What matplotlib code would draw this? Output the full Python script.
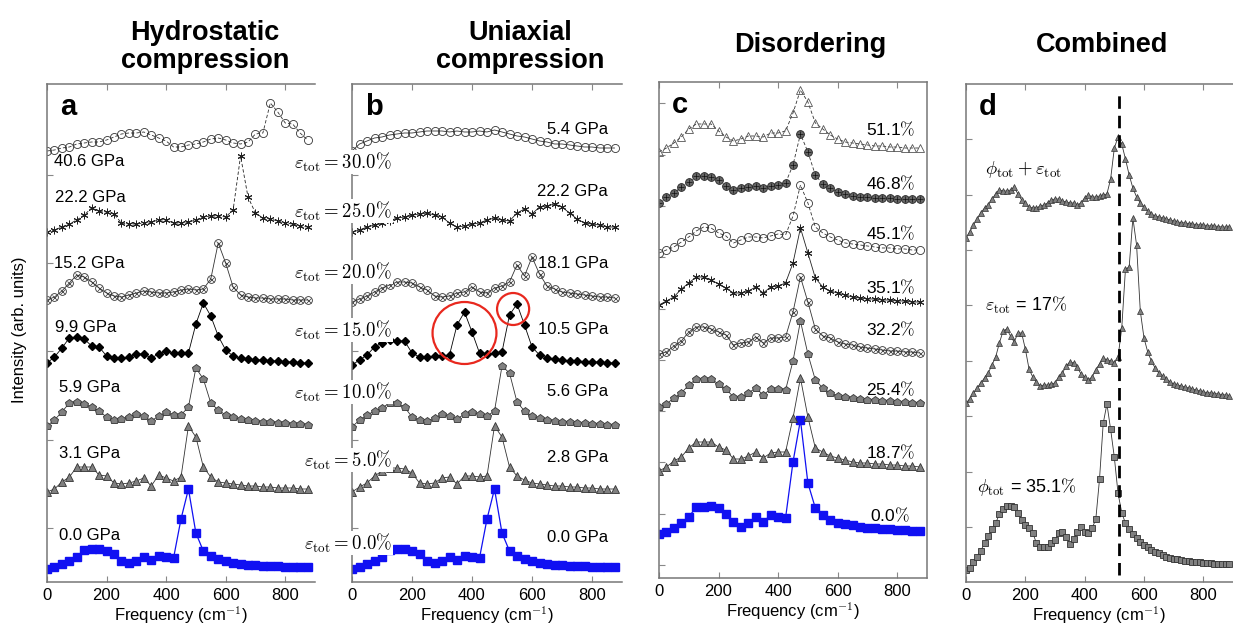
import numpy as np
import matplotlib
matplotlib.use("Agg")
import matplotlib.pyplot as plt
from matplotlib.patches import Ellipse

plt.rcParams['font.family'] = ['Liberation Sans', 'DejaVu Sans']
plt.rcParams['mathtext.fontset'] = 'cm'

# frequency grids (cm^-1)
freq = np.arange(0, 900, 25)
freq_fine = np.arange(0, 900, 12.5)

# --- a: hydrostatic compression (stacked intensities) ---
ref_0gpa = [1.3, 1.5, 1.8, 2.1, 2.5, 3.2, 3.3, 3.3, 3.1, 2.8, 2.1, 1.9, 2.1, 2.5, 2.2, 2.6, 2.5, 2.4,
            6.3, 9.3, 4.9, 3.1, 2.6, 2.3, 2.1, 1.9, 1.8, 1.7, 1.7, 1.6, 1.6, 1.6, 1.5, 1.5, 1.5, 1.5]
hydro_3gpa = [9.0, 9.3, 10.0, 10.5, 11.5, 11.5, 11.5, 10.7, 10.6, 9.9, 9.8, 9.9, 10.1, 10.4, 9.6, 10.7, 10.4, 10.1,
              10.5, 15.6, 14.5, 11.5, 10.5, 10.0, 9.9, 9.8, 9.7, 9.6, 9.6, 9.5, 9.5, 9.4, 9.4, 9.4, 9.3, 9.3]
hydro_6gpa = [15.6, 16.2, 17.0, 17.9, 18.0, 17.8, 17.5, 17.1, 16.5, 16.2, 16.3, 16.5, 16.8, 16.6, 16.1, 16.6, 17.0, 16.7,
              16.7, 17.5, 21.4, 20.3, 17.9, 17.2, 16.7, 16.5, 16.3, 16.2, 16.1, 16.0, 16.0, 15.9, 15.9, 15.8, 15.8, 15.7]
hydro_10gpa = [21.9, 22.5, 23.4, 24.4, 24.5, 24.3, 23.6, 23.5, 22.6, 22.4, 22.4, 22.5, 22.8, 22.8, 22.4, 22.8, 23.1, 22.9,
               22.9, 22.9, 25.8, 27.9, 26.6, 24.6, 23.2, 22.6, 22.4, 22.3, 22.2, 22.2, 22.1, 22.1, 22.0, 22.0, 21.9, 21.9]
hydro_15gpa = [28.2, 28.5, 29.1, 29.9, 30.7, 30.5, 30.0, 29.4, 28.9, 28.6, 28.5, 28.7, 28.9, 29.1, 29.0, 28.9, 28.9, 29.0,
               29.2, 29.3, 29.2, 29.3, 30.3, 33.9, 31.9, 29.5, 28.7, 28.5, 28.4, 28.4, 28.3, 28.3, 28.3, 28.2, 28.2, 28.2]
hydro_22gpa = [35.0, 35.2, 35.5, 35.8, 36.2, 36.7, 37.4, 37.1, 37.0, 36.8, 35.9, 35.8, 35.8, 35.9, 36.0, 36.2, 36.2, 35.9,
               35.9, 36.0, 36.2, 36.5, 36.6, 36.6, 36.5, 37.2, 42.6, 38.5, 36.9, 36.4, 36.3, 36.1, 35.9, 35.8, 35.6, 35.5]
hydro_41gpa = [43.1, 43.2, 43.4, 43.5, 43.8, 43.9, 44.0, 44.0, 44.2, 44.5, 44.8, 44.9, 44.9, 45.0, 44.7, 44.4, 44.1, 43.5,
               43.5, 43.7, 43.8, 44.0, 44.3, 44.4, 44.2, 43.9, 43.8, 44.0, 44.8, 44.9, 47.9, 47.0, 45.9, 45.8, 44.9, 44.2]
hydro_labels = ['0.0 GPa', '3.1 GPa', '5.9 GPa', '9.9 GPa', '15.2 GPa', '22.2 GPa', '40.6 GPa']

# --- b: uniaxial compression ---
uni_3gpa = [9.0, 9.5, 9.9, 10.6, 11.1, 11.4, 11.4, 11.3, 10.9, 9.9, 9.8, 9.9, 10.4, 10.5, 9.8, 10.6, 10.6, 10.5,
            10.6, 15.6, 14.5, 11.5, 10.6, 10.2, 9.9, 9.8, 9.7, 9.6, 9.6, 9.5, 9.5, 9.4, 9.4, 9.3, 9.3, 9.3]
uni_6gpa = [15.5, 16.2, 16.7, 17.1, 17.4, 17.9, 17.9, 17.5, 16.5, 16.2, 16.1, 16.4, 16.8, 16.6, 16.3, 16.8, 17.0, 16.8,
            16.6, 17.1, 21.6, 20.9, 18.0, 17.1, 16.6, 16.4, 16.2, 16.1, 16.0, 16.0, 15.9, 15.9, 15.8, 15.8, 15.7, 15.7]
uni_10gpa = [21.7, 22.2, 22.7, 23.5, 23.9, 24.2, 24.1, 24.1, 22.9, 22.5, 22.5, 22.6, 22.6, 22.7, 25.7, 27.0, 25.0, 22.9,
             22.8, 22.9, 23.0, 26.7, 27.8, 25.7, 23.5, 22.7, 22.4, 22.3, 22.2, 22.1, 22.1, 22.0, 22.0, 22.0, 21.9, 21.9]
uni_18gpa = [28.0, 28.3, 28.6, 29.0, 29.4, 29.7, 30.0, 30.0, 29.9, 29.5, 29.2, 28.6, 28.5, 28.6, 28.9, 29.0, 29.5, 29.0,
             28.9, 29.4, 29.6, 30.0, 31.7, 30.6, 32.5, 30.8, 29.6, 29.3, 29.0, 28.9, 28.8, 28.7, 28.6, 28.5, 28.5, 28.4]
uni_22gpa = [35.0, 35.2, 35.5, 35.7, 35.9, 36.1, 36.4, 36.5, 36.7, 36.8, 36.9, 36.7, 36.5, 35.9, 35.5, 35.6, 35.8, 35.9,
             36.2, 36.4, 36.2, 36.1, 36.9, 37.3, 36.8, 37.5, 37.6, 37.8, 37.5, 36.9, 36.3, 35.9, 35.8, 35.7, 35.5, 35.5]
uni_5gpa = [43.1, 43.8, 44.1, 44.4, 44.5, 44.7, 44.8, 44.9, 44.9, 45.0, 45.1, 45.1, 45.1, 45.0, 45.1, 45.0, 45.0, 45.1,
            45.0, 45.2, 45.0, 44.8, 44.6, 44.5, 44.3, 44.1, 44.0, 43.8, 43.8, 43.7, 43.6, 43.5, 43.5, 43.4, 43.4, 43.4]
uni_labels = ['0.0 GPa', '2.8 GPa', '5.6 GPa', '10.5 GPa', '18.1 GPa', '22.2 GPa', '5.4 GPa']
strain_labels = ['0.0', '5.0', '10.0', '15.0', '20.0', '25.0', '30.0']

# --- c: disordering ---
dis_0 = [4.4, 4.6, 5.0, 5.5, 6.1, 7.1, 7.1, 7.2, 7.0, 6.4, 5.6, 5.1, 5.5, 6.1, 5.6, 6.3, 6.1, 6.0,
         11.6, 15.8, 9.5, 7.0, 6.3, 5.8, 5.5, 5.4, 5.3, 5.1, 5.0, 5.0, 4.9, 4.9, 4.8, 4.8, 4.7, 4.7]
dis_187 = [10.7, 11.1, 11.7, 12.1, 13.0, 13.6, 13.6, 13.6, 13.1, 12.8, 11.9, 11.9, 12.2, 12.6, 12.0, 12.5, 12.6, 12.6,
           16.0, 20.0, 16.1, 13.0, 12.6, 12.2, 12.0, 11.8, 11.6, 11.5, 11.5, 11.4, 11.4, 11.3, 11.3, 11.2, 11.2, 11.1]
dis_254 = [17.1, 17.4, 18.0, 18.5, 19.3, 19.9, 19.9, 19.9, 19.4, 18.9, 18.1, 18.1, 18.5, 19.0, 18.3, 18.9, 18.9, 18.8,
           21.7, 25.7, 22.4, 19.8, 19.0, 18.5, 18.2, 18.1, 18.0, 17.9, 17.8, 17.8, 17.7, 17.7, 17.6, 17.6, 17.5, 17.5]
dis_322 = [22.4, 22.6, 23.2, 23.7, 24.6, 25.1, 25.1, 24.9, 24.6, 24.3, 23.3, 23.5, 23.6, 24.1, 23.5, 24.0, 24.0, 24.1,
           26.6, 30.1, 27.6, 24.9, 24.2, 24.0, 23.6, 23.4, 23.3, 23.1, 23.0, 22.9, 22.8, 22.7, 22.7, 22.6, 22.6, 22.5]
dis_351 = [27.3, 27.7, 28.1, 28.9, 29.5, 30.1, 30.1, 29.8, 29.4, 29.0, 28.5, 28.5, 28.7, 29.1, 28.5, 29.1, 29.2, 29.5,
           31.5, 35.0, 32.5, 30.0, 29.1, 28.7, 28.5, 28.3, 28.1, 28.0, 27.9, 27.9, 27.8, 27.8, 27.7, 27.7, 27.6, 27.6]
dis_451 = [32.5, 32.8, 33.1, 33.6, 34.1, 34.7, 35.1, 35.0, 34.5, 34.2, 33.5, 33.8, 34.1, 34.1, 34.0, 34.2, 34.4, 34.3,
           36.2, 39.3, 37.5, 35.1, 34.5, 34.1, 33.8, 33.5, 33.4, 33.3, 33.2, 33.1, 33.0, 33.0, 32.9, 32.9, 32.8, 32.8]
dis_468 = [37.5, 38.1, 38.5, 39.1, 39.6, 40.2, 40.2, 40.1, 39.8, 39.2, 38.8, 39.0, 39.1, 39.2, 39.0, 39.2, 39.3, 39.5,
           41.3, 44.4, 42.6, 40.3, 39.4, 39.0, 38.6, 38.4, 38.2, 38.1, 38.1, 38.0, 38.0, 38.0, 37.9, 37.9, 37.9, 37.9]
dis_511 = [42.6, 43.0, 43.5, 44.1, 44.9, 45.4, 45.4, 45.4, 44.7, 44.1, 43.7, 43.9, 44.2, 44.2, 44.1, 44.5, 44.5, 44.7,
           46.5, 48.8, 47.6, 45.5, 44.9, 44.3, 43.9, 43.6, 43.5, 43.4, 43.3, 43.2, 43.2, 43.1, 43.1, 43.0, 43.0, 43.0]
dis_labels = ['0.0', '18.7', '25.4', '32.2', '35.1', '45.1', '46.8', '51.1']

# --- d: combined (finer grid) ---
comb_phi = [1.2, 1.43, 2.03, 2.53, 3.13, 3.87, 4.6, 5.27, 5.87, 6.8, 7.27, 7.6, 7.63, 7.47, 6.93, 6.2, 5.7, 5.37,
            4.93, 3.87, 3.53, 3.47, 3.53, 3.93, 4.2, 4.87, 5.03, 4.47, 3.8, 4.27, 5.03, 5.47, 5.03, 4.93, 5.37, 6.27,
            10.27, 15.87, 17.8, 15.27, 12.47, 8.87, 6.93, 5.87, 5.27, 4.8, 4.37, 4.03, 3.7, 3.47, 3.2, 3.0, 2.87, 2.7,
            2.53, 2.43, 2.33, 2.27, 2.2, 2.13, 2.07, 2.03, 2.0, 1.97, 1.93, 1.9, 1.87, 1.83, 1.8, 1.8, 1.77, 1.77]
comb_eps = [17.9, 18.3, 18.9, 19.4, 19.9, 20.4, 20.9, 21.7, 22.5, 23.9, 25.1, 25.3, 24.6, 24.0, 24.9, 24.9, 23.3, 21.3,
            20.5, 20.0, 19.6, 19.7, 19.7, 19.8, 19.9, 20.5, 20.9, 21.6, 22.0, 21.9, 21.5, 20.8, 20.5, 20.2, 20.5, 21.2,
            21.8, 22.4, 22.2, 22.1, 21.9, 22.5, 25.4, 31.3, 31.5, 36.4, 33.7, 27.1, 24.4, 23.0, 22.1, 21.4, 20.9, 20.6,
            20.3, 20.0, 19.8, 19.7, 19.6, 19.5, 19.4, 19.3, 19.2, 19.1, 19.0, 18.95, 18.9, 18.85, 18.8, 18.75, 18.7, 18.6]
comb_both = [34.4, 35.0, 35.7, 36.3, 36.9, 37.4, 37.7, 38.3, 38.8, 39.2, 39.1, 39.1, 39.2, 39.5, 38.8, 38.2, 37.9, 37.5,
             37.4, 37.4, 37.6, 37.7, 37.9, 38.2, 38.3, 38.3, 38.1, 38.0, 37.9, 37.9, 37.7, 37.9, 38.4, 38.7, 38.5, 38.5,
             38.6, 38.7, 38.8, 40.3, 43.4, 44.5, 43.8, 42.3, 40.7, 39.4, 38.5, 37.9, 37.5, 37.1, 36.8, 36.6, 36.5, 36.4,
             36.3, 36.2, 36.1, 36.0, 35.95, 35.9, 35.85, 35.8, 35.75, 35.7, 35.7, 35.65, 35.6, 35.6, 35.55, 35.5, 35.5, 35.5]
bulk_peak = 515  # cm^-1, reference line in panel d

GRAY = '#808080'
EDGE = '#333333'
BLUE = '#1010f2'
STYLES = {
    'blue':     dict(marker='s', ms=5.2, mfc=BLUE, mec=BLUE, color=BLUE, lw=0.9),
    'tri':      dict(marker='^', ms=5.2, mfc=GRAY, mec=EDGE, color=EDGE, lw=0.6, mew=0.6),
    'tri_open': dict(marker='^', ms=5.2, mfc='none', mec='#555555', color='#333333', lw=0.6, mew=0.6),
    'pent':     dict(marker='p', ms=6.2, mfc=GRAY, mec=EDGE, color=EDGE, lw=0.6, mew=0.6),
    'diam':     dict(marker='D', ms=3.8, mfc='black', mec='black', color='black', lw=0.6),
    'circ':     dict(marker='o', ms=5.8, mfc='none', mec='#333333', color='#333333', lw=0.6, mew=0.6),
    'otimes':   dict(marker='o', ms=5.6, mfc='none', mec='#333333', color='#333333', lw=0.6, mew=0.6),
    'oplus':    dict(marker='o', ms=5.6, mfc='#666666', mec='#222222', color='#333333', lw=0.6, mew=0.6),
    'star':     dict(marker=(6, 2, 0), ms=5.5, mec='#222222', color='#222222', lw=0.6, mew=0.7),
    'tri_d':    dict(marker='^', ms=4.4, mfc=GRAY, mec=EDGE, color=EDGE, lw=0.6, mew=0.5),
    'sq_d':     dict(marker='s', ms=5.0, mfc=GRAY, mec=EDGE, color=EDGE, lw=0.6, mew=0.6),
}


def spectrum(ax, x, y, kind, dashed=False):
    st = dict(STYLES[kind])
    if dashed:
        st['ls'] = (0, (4, 2.5))
    ax.plot(x, y, **st)
    if kind == 'otimes':
        ax.plot(x, y, ls='none', marker='x', ms=3.6, mec='#333333', mew=0.5)
    if kind == 'oplus':
        ax.plot(x, y, ls='none', marker='+', ms=5.0, mec='#111111', mew=0.5)


W, H = 1233, 627
fig = plt.figure(figsize=(W / 100, H / 100), dpi=100)


def panel(left, top, right, bottom, yticks, letter, right_spine=False):
    ax = fig.add_axes([left / W, 1 - bottom / H, (right - left) / W, (bottom - top) / H])
    ax.set_xlim(0, 900)
    ax.set_ylim(0, (bottom - top) / 10)
    ax.set_xticks([0, 200, 400, 600, 800])
    ax.set_yticks(yticks)
    ax.set_yticklabels([])
    ax.tick_params(direction='in', length=4, width=0.8, color='#888888', top=True,
                   labelsize=12, pad=4)
    for name, sp in ax.spines.items():
        sp.set_color('#777777')
        sp.set_linewidth(1.1)
    ax.spines['right'].set_visible(right_spine)
    ax.set_xlabel(r'Frequency (cm$^{\mathsf{-1}}$)', fontsize=12, labelpad=1)
    ax.text(0.048, 1 - 31 / (bottom - top), letter, transform=ax.transAxes,
            fontsize=21, fontweight='bold', va='baseline', ha='left')
    return ax


ticks_ab = 5.4 + 8.83 * np.arange(5)
ax_a = panel(47, 84, 315, 582, ticks_ab, 'a')
ax_b = panel(352, 84, 622, 582, ticks_ab, 'b')
ax_c = panel(659, 82, 927, 578, 1.3 + 5.13 * np.arange(10), 'c', right_spine=True)
ax_d = panel(966, 84, 1233, 582, 5.5 + 5.54 * np.arange(8), 'd')

# panel a
spectrum(ax_a, freq, ref_0gpa, 'blue')
spectrum(ax_a, freq, hydro_3gpa, 'tri')
spectrum(ax_a, freq, hydro_6gpa, 'pent')
spectrum(ax_a, freq, hydro_10gpa, 'diam')
spectrum(ax_a, freq, hydro_15gpa, 'otimes')
spectrum(ax_a, freq, hydro_22gpa, 'star', dashed=True)
spectrum(ax_a, freq, hydro_41gpa, 'circ', dashed=True)
for lab, (x, y) in zip(hydro_labels, [(40, 4.6), (40, 12.9), (40, 19.5), (27, 25.5),
                                      (22, 31.9), (27, 38.4), (22, 42.0)]):
    ax_a.text(x, y, lab, fontsize=12, ha='left', va='center')

# panel b
spectrum(ax_b, freq, ref_0gpa, 'blue')
spectrum(ax_b, freq, uni_3gpa, 'tri')
spectrum(ax_b, freq, uni_6gpa, 'pent')
spectrum(ax_b, freq, uni_10gpa, 'diam')
spectrum(ax_b, freq, uni_18gpa, 'otimes')
spectrum(ax_b, freq, uni_22gpa, 'star')
spectrum(ax_b, freq, uni_5gpa, 'circ')
for lab, y in zip(uni_labels, [4.5, 12.4, 19.0, 25.3, 31.9, 39.0, 45.2]):
    ax_b.text(853, y, lab, fontsize=12, ha='right', va='center')
for s, y in zip(strain_labels, [3.9, 12.2, 19.0, 25.2, 31.0, 37.1, 42.0]):
    ax_b.text(133, y, r'$\varepsilon_{\rm tot} = %s\%%$' % s, fontsize=13.5, ha='right',
              va='center', zorder=6, clip_on=False,
              bbox=dict(facecolor='white', edgecolor='none', pad=0.5))
for cx, cy, w, h in [(375, 24.9, 213, 6.2), (537, 27.3, 107, 3.2)]:
    ax_b.add_patch(Ellipse((cx, cy), w, h, fill=False, ec='#e8281e', lw=1.6, zorder=5))

# panel c
spectrum(ax_c, freq, dis_0, 'blue')
spectrum(ax_c, freq, dis_187, 'tri')
spectrum(ax_c, freq, dis_254, 'pent')
spectrum(ax_c, freq, dis_322, 'otimes')
spectrum(ax_c, freq, dis_351, 'star')
spectrum(ax_c, freq, dis_451, 'circ', dashed=True)
spectrum(ax_c, freq, dis_468, 'oplus', dashed=True)
spectrum(ax_c, freq, dis_511, 'tri_open', dashed=True)
for lab, y in zip(dis_labels, [6.3, 12.6, 18.9, 24.9, 29.1, 34.5, 39.5, 44.9]):
    x = 843 if lab == '0.0' else 860
    ax_c.text(x, y, lab + r'$\%$', fontsize=12.5, ha='right', va='center')

# panel d
spectrum(ax_d, freq_fine, comb_phi, 'sq_d')
spectrum(ax_d, freq_fine, comb_eps, 'tri_d')
spectrum(ax_d, freq_fine, comb_both, 'tri_d')
ax_d.axvline(bulk_peak, ymin=0.015, ymax=0.985, color='black', lw=2.0, ls=(0, (4.5, 2.5)), zorder=4)
ax_d.text(64, 41.2, r'$\phi_{\rm tot} + \varepsilon_{\rm tot}$', fontsize=13.5, ha='left', va='center')
ax_d.text(64, 27.7, r'$\varepsilon_{\rm tot}$ = 17$\%$', fontsize=13, ha='left', va='center')
ax_d.text(37, 9.5, r'$\phi_{\rm tot}$ = 35.1$\%$', fontsize=13, ha='left', va='center')

# column titles and shared y label
title_kw = dict(ha='center', va='center', fontsize=19.5, fontweight='bold', linespacing=1.15)
fig.text(205 / W, 1 - 47 / H, 'Hydrostatic\ncompression', **title_kw)
fig.text(520 / W, 1 - 47 / H, 'Uniaxial\ncompression', **title_kw)
fig.text(810 / W, 1 - 45 / H, 'Disordering', **title_kw)
fig.text(1102 / W, 1 - 45 / H, 'Combined', **title_kw)
fig.text(20 / W, 1 - 330 / H, 'Intensity (arb. units)', rotation=90, ha='center', va='center', fontsize=12)

fig.savefig('out.png', dpi=100)
